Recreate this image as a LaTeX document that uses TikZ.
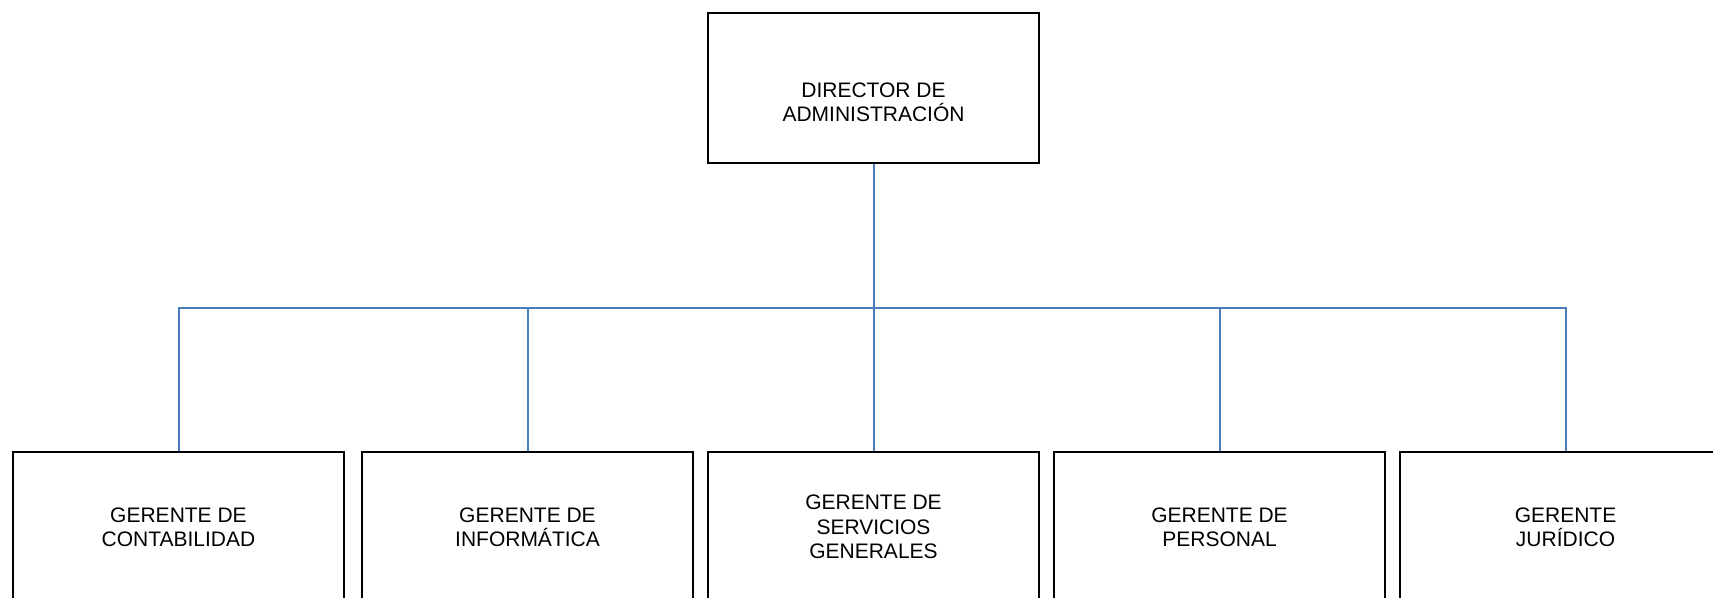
\documentclass[tikz,border=0pt]{standalone}
\usepackage{fontspec}
\setmainfont{Liberation Sans}
\usepackage{tikz}
\usetikzlibrary{positioning,calc}
\definecolor{orgblue}{RGB}{74,126,187}

\begin{document}
\begin{tikzpicture}[
        x=0.5pt, y=-0.5pt,
        every node/.style={font=\fontsize{10.5}{12.2}\selectfont},
        orgbox/.style={rectangle, draw, line width=1.2pt, minimum width=165.5pt, minimum height=75pt, inner sep=0pt, align=center},
        link/.style={draw=orgblue, line width=1pt}
    ]
        \useasboundingbox (0,0) rectangle (1713,598);

        \node[orgbox] (dir) at (873.5,88) {};
        \node[align=center] (dirtext) at ([yshift=-7pt]dir.center) {DIRECTOR DE\\ADMINISTRACIÓN};

        \node[orgbox] (cont) at (178.5,527) {GERENTE DE\\CONTABILIDAD};
        \node[orgbox, right=7.8pt of cont] (info) {GERENTE DE\\INFORMÁTICA};
        \node[orgbox, right=6.3pt of info] (serv) {GERENTE DE\\SERVICIOS\\GENERALES};
        \node[orgbox, right=6.3pt of serv] (pers) {GERENTE DE\\PERSONAL};
        \node[orgbox, right=6.3pt of pers] (jur) {GERENTE\\JURÍDICO};

        \coordinate (hub) at (873.5,308);

        \draw[link] (dir.south) -- (hub);
        \draw[link] (cont.north) -- (cont.north |- hub) -- (jur.north |- hub) -- (jur.north);
        \draw[link] (info.north) -- (info.north |- hub);
        \draw[link] (serv.north) -- (serv.north |- hub);
        \draw[link] (pers.north) -- (pers.north |- hub);
    \end{tikzpicture}
\end{document}
